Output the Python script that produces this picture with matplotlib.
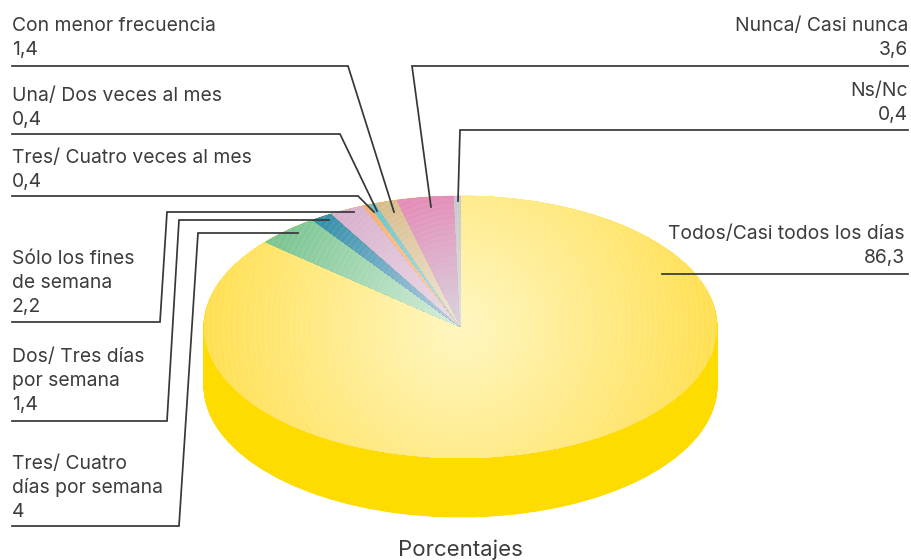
import matplotlib
matplotlib.use("Agg")
import matplotlib.pyplot as plt
import matplotlib.colors as mcolors
from matplotlib.patches import Circle
import numpy as np

# data, clockwise from the top of the pie
categories = ["Todos/Casi todos los días", "Tres/ Cuatro días por semana", "Dos/ Tres días por semana",
              "Sólo los fines de semana", "Tres/ Cuatro veces al mes", "Una/ Dos veces al mes",
              "Con menor frecuencia", "Nunca/ Casi nunca", "Ns/Nc"]
values = [86.3, 4, 1.4, 2.2, 0.4, 0.4, 1.4, 3.6, 0.4]

edge_colors = ["#FFDF50", "#7CC592", "#338FA8", "#D9B0CC", "#F6AE6C", "#62C4CC", "#D8BC8C", "#E58CB8", "#C8C8C8"]
center_colors = ["#FFF6C0", "#D6EEDC", "#BCCDE6", "#EBDDE8", "#FBD9B8", "#C5E6EA", "#F0E8DA", "#D8D4DE", "#E2E2E2"]
side_color = "#FFDC00"
text_color = "#3C3C3E"
line_color = "#37373A"

plt.rcParams["font.family"] = ["Inter", "DejaVu Sans"]
W, H = 912, 560
fig = plt.figure(figsize=(W / 100, H / 100), dpi=100)

# pie axes: unit circle squashed to the ellipse of the picture
cx, cy, rx, ry = 460.5, 327, 256.5, 131
depth = 59 / ry
pie_ax = fig.add_axes([(cx - rx) / W, 1 - (cy + ry) / H, 2 * rx / W, 2 * ry / H])

# side wall, a stack of the same pie going down
for off in np.linspace(depth, 0, 150):
    pie_ax.pie(values, colors=[side_color] * len(values), startangle=90, counterclock=False,
               center=(0, -off), radius=1, wedgeprops=dict(linewidth=0.6, edgecolor=side_color))

# top face base, its wedges also clip the rings below
wedges, _ = pie_ax.pie(values, colors=edge_colors, startangle=90, counterclock=False, radius=1,
                       wedgeprops=dict(linewidth=0))

pie_ax.set_aspect("auto")
pie_ax.set_xlim(-1, 1)
pie_ax.set_ylim(-1, 1)
pie_ax.axis("off")
for p in pie_ax.patches:
    p.set_clip_on(False)

# overlay in pixels for the rings, leader lines and labels
ax = fig.add_axes([0, 0, 1, 1], facecolor="none")
ax.set_xlim(0, W)
ax.set_ylim(H, 0)
ax.axis("off")

# the shading is round on the page, not squashed with the pie
ring_radii = np.arange(rx, 1, -2.6)
for w, c1, c0 in zip(wedges, edge_colors, center_colors):
    mid = np.radians((w.theta1 + w.theta2) / 2)
    reach = np.hypot(rx * np.cos(mid), ry * np.sin(mid))
    if w.theta2 - w.theta1 > 180:
        reach = rx
    for i, r in enumerate(ring_radii):
        if r > reach * 1.1:
            continue
        t = min(r / reach, 1) ** 1.1
        if i % 2:
            t = t * 0.9  # fine stripes like the original
        col = np.array(mcolors.to_rgb(c0)) * (1 - t) + np.array(mcolors.to_rgb(c1)) * t
        circ = Circle((cx, cy), r, facecolor=col, linewidth=0)
        ax.add_patch(circ)
        circ.set_clip_path(w)

leaders = [
    ([12, 348, 394], [66, 66, 212]),
    ([908, 412, 431], [66, 66, 207]),
    ([908, 460, 458], [130, 130, 201]),
    ([12, 340, 377], [134, 134, 211]),
    ([12, 358, 374], [196, 196, 212]),
    ([12, 160, 167, 354], [322, 322, 212, 212]),
    ([12, 167, 179, 329], [421, 421, 220, 220]),
    ([12, 179, 198, 298], [526, 526, 233, 233]),
    ([662, 908], [274, 274]),
]
for xs, ys in leaders:
    ax.plot(xs, ys, color=line_color, lw=1.25, solid_joinstyle="miter")

left_labels = [
    (31, ["Con menor frecuencia", "1,4"]),
    (101, ["Una/ Dos veces al mes", "0,4"]),
    (163, ["Tres/ Cuatro veces al mes", "0,4"]),
    (264, ["Sólo los fines", "de semana", "2,2"]),
    (362, ["Dos/ Tres días", "por semana", "1,4"]),
    (469, ["Tres/ Cuatro", "días por semana", "4"]),
]
right_labels = [
    (908, 31, ["Nunca/ Casi nunca", "3,6"]),
    (908, 96, ["Ns/Nc", "0,4"]),
    (905, 239, ["Todos/Casi todos los días", "86,3"]),
]
fs = 13.9
for y0, lines in left_labels:
    for j, s in enumerate(lines):
        ax.text(12, y0 + 24 * j, s, ha="left", va="baseline", fontsize=fs, color=text_color)
for x0, y0, lines in right_labels:
    for j, s in enumerate(lines):
        ax.text(x0, y0 + 24 * j, s, ha="right", va="baseline", fontsize=fs, color=text_color)
ax.text(460.5, 556, "Porcentajes", ha="center", va="baseline", fontsize=16, color=text_color)

fig.savefig("out.png", dpi=100)
